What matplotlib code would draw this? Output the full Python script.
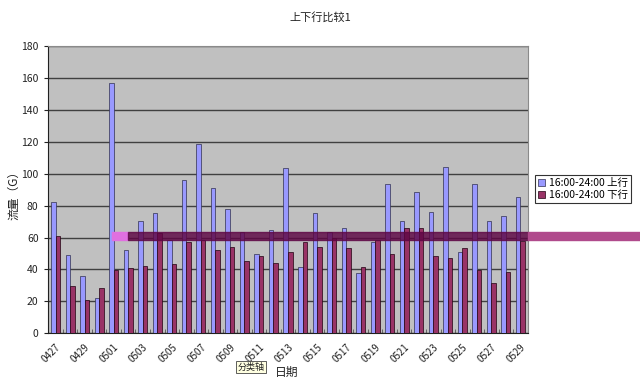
import numpy as np
import matplotlib
matplotlib.use("Agg")
import matplotlib.pyplot as plt
from matplotlib.patches import Rectangle

plt.rcParams['font.family'] = ['Noto Sans CJK SC', 'DejaVu Sans']

# dates 0427 .. 0529
dates = ["0427", "0428", "0429", "0430"] + ["05%02d" % d for d in range(1, 30)]

up = [82.0, 48.9, 35.7, 22.1, 156.6, 52.4, 70.6, 75.4, 58.2, 95.8, 118.8,
      90.8, 77.7, 63.3, 49.5, 64.5, 103.8, 41.3, 75.4, 63.5, 66.0, 37.8,
      57.2, 93.5, 70.1, 88.7, 75.8, 104.0, 50.7, 93.5, 70.1, 73.3, 85.6]
down = [60.8, 29.6, 20.9, 28.2, 39.7, 40.7, 42.2, 62.6, 43.2, 57.2, 58.2,
        52.0, 54.3, 45.3, 48.2, 43.8, 51.1, 57.2, 54.3, 59.5, 53.7, 41.3,
        58.2, 49.9, 66.0, 65.8, 48.6, 47.4, 53.2, 39.7, 31.3, 38.2, 57.8]

series_names = ["16:00-24:00 上行", "16:00-24:00 下行"]
colors = ["#9999FF", "#993366"]

fig = plt.figure(figsize=(6.4, 3.89), dpi=100)
ax = fig.add_axes([48.3 / 640, 1 - 333.3 / 389, 479.4 / 640, 287.3 / 389])
ax.set_facecolor("#C0C0C0")

x = np.arange(len(dates))
w = 0.31
ax.bar(x - w / 2, up, w, color=colors[0], edgecolor="#303050", linewidth=0.5,
       label=series_names[0], zorder=3)
ax.bar(x + w / 2, down, w, color=colors[1], edgecolor="#200010", linewidth=0.5,
       label=series_names[1], zorder=3)

ax.set_xlim(-0.5, len(dates) - 0.5)
ax.set_ylim(0, 180)
ax.set_yticks(range(0, 181, 20))
ax.yaxis.grid(True, color="#404040", linewidth=1.0, zorder=1)
ax.set_axisbelow(True)

ax.set_xticks(x[::2])
ax.set_xticklabels(dates[::2], rotation=45, ha="right", va="top",
                   rotation_mode="anchor", fontsize=7, color="#222222")
ax.set_xticks(np.arange(-0.5, len(dates), 1), minor=True)
ax.tick_params(axis="x", which="major", length=0, pad=6)
ax.tick_params(axis="x", which="minor", length=3, direction="in", color="#555555")
ax.tick_params(axis="y", length=3, labelsize=7.5, colors="#222222", pad=4)

for s in ["top", "right"]:
    ax.spines[s].set_color("#8a8a8a")
    ax.spines[s].set_linewidth(0.8)
ax.spines["left"].set_color("#202020")
ax.spines["bottom"].set_color("#202020")

fig.text(0.5, 1 - 17 / 389, "上下行比较1", ha="center", va="center", fontsize=8, color="#222222")
fig.text(14 / 640, 1 - 192 / 389, "流量（G）", rotation=90, ha="center", va="center",
         fontsize=8.5, color="#222222")
fig.text(287 / 640, 1 - 372 / 389, "日期", ha="center", va="center", fontsize=8.5, color="#222222")

leg = fig.legend(loc="upper left", bbox_to_anchor=(535 / 640, 1 - 175 / 389),
                 fontsize=7.5, frameon=True, fancybox=False, borderpad=0.3,
                 handlelength=0.7, handleheight=0.7, handletextpad=0.3,
                 labelspacing=0.2, borderaxespad=0)
leg.get_frame().set_edgecolor("#000000")
leg.get_frame().set_linewidth(0.8)

# stray selection band across the picture
fig.patches.append(Rectangle((112 / 640, 1 - 240 / 389), 16 / 640, 8 / 389,
                             transform=fig.transFigure, color="#e070e0", zorder=5))
fig.patches.append(Rectangle((128 / 640, 1 - 240 / 389), 400 / 640, 8 / 389,
                             transform=fig.transFigure, color="#5e0644", alpha=0.82, zorder=5))
fig.patches.append(Rectangle((528 / 640, 1 - 240 / 389), 112 / 640, 8 / 389,
                             transform=fig.transFigure, color="#b04a8c", zorder=5))

# tooltip
fig.text(251 / 640, 1 - 367 / 389, "分类轴", ha="center", va="center", fontsize=6.5,
         color="#222222", bbox=dict(boxstyle="square,pad=0.15", fc="#ffffe1", ec="#444444", lw=0.6))

fig.savefig("out.png", dpi=100)
